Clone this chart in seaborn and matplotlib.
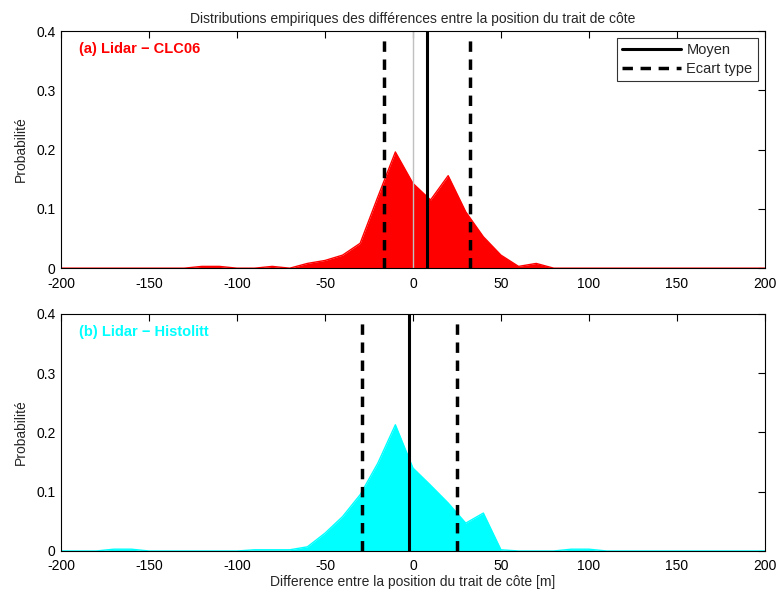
import numpy as np
import pandas as pd
import matplotlib
matplotlib.use("Agg")
import matplotlib.pyplot as plt
import seaborn as sns
from matplotlib.lines import Line2D

sns.set_style("white")
plt.rcParams['font.family'] = ['Liberation Sans', 'DejaVu Sans']

# Data (bin centers every 10 m)
x_bins = list(range(-200, 201, 10))

prob_clc06 = [0, 0, 0, 0, 0, 0, 0, 0, 0.003, 0.003,   # -200..-110
              0, 0, 0.003, 0, 0.008, 0.013, 0.022, 0.042, 0.12, 0.196,  # -100..-10
              0.143,  # 0
              0.115, 0.156, 0.095, 0.053, 0.022, 0.003, 0.008, 0, 0, 0,  # 10..100
              0, 0, 0, 0, 0, 0, 0, 0, 0, 0]  # 110..200

prob_histolitt = [0, 0, 0, 0.003, 0.003, 0, 0, 0, 0, 0,   # -200..-110
                  0, 0.002, 0.002, 0.002, 0.007, 0.03, 0.058, 0.095, 0.148, 0.213,  # -100..-10
                  0.14,  # 0
                  0.111, 0.081, 0.047, 0.064, 0.002, 0, 0, 0, 0.003, 0.003,  # 10..100
                  0, 0, 0, 0, 0, 0, 0, 0, 0, 0]

mean_vals = [8.0, -2.1]
std_low = [-16.3, -28.8]
std_high = [32.4, 25.2]
panel_labels = ["(a) Lidar \u2212 CLC06", "(b) Lidar \u2212 Histolitt"]
colors = ["#ff0000", "#00ffff"]
x_ticks = [-200, -150, -100, -50, 0, 50, 100, 150, 200]
y_ticks = [0, 0.1, 0.2, 0.3, 0.4]
y_tick_labels = ["0", "0.1", "0.2", "0.3", "0.4"]

fig = plt.figure(figsize=(7.78, 5.92), dpi=100)
ax1 = fig.add_axes([0.0784, 0.547, 0.9048, 0.4006])
ax2 = fig.add_axes([0.0784, 0.0693, 0.9048, 0.4003])

series = [prob_clc06, prob_histolitt]
for i, ax in enumerate([ax1, ax2]):
    df = pd.DataFrame({"x": x_bins, "p": series[i]})
    ax.fill_between(df["x"], 0, df["p"], color=colors[i], linewidth=0)
    sns.lineplot(data=df, x="x", y="p", ax=ax, color=colors[i], linewidth=1)
    if i == 0:
        ax.axvline(0, color="#c0c0c0", linewidth=1)
    ax.axvline(mean_vals[i], color="black", linewidth=2.2)
    ax.plot([std_low[i], std_low[i]], [0, 0.385], color="black", linewidth=2.5,
            linestyle=(0, (3, 2.2)))
    ax.plot([std_high[i], std_high[i]], [0, 0.385], color="black", linewidth=2.5,
            linestyle=(0, (3, 2.2)))
    ax.set_xlim(-200, 200)
    ax.set_ylim(0, 0.4)
    ax.set_xticks(x_ticks)
    ax.set_xticklabels([str(t) for t in x_ticks])
    ax.set_yticks(y_ticks)
    ax.set_yticklabels(y_tick_labels)
    ax.tick_params(direction="in", length=5, width=0.8, top=True, right=True,
                   labelsize=10, colors="black")
    ax.tick_params(axis="x", pad=6)
    ax.tick_params(axis="y", pad=4)
    for s in ax.spines.values():
        s.set_color("black")
        s.set_linewidth(0.8)
    ax.set_ylabel("Probabilité", fontsize=10, labelpad=6)
    ax.set_xlabel("")
    ax.text(-190, 0.37, panel_labels[i], color=colors[i], fontsize=10.5,
            fontweight="bold", va="center", ha="left")

ax1.set_title("Distributions empiriques des différences entre la position du trait de côte",
              fontsize=10, pad=6)
ax2.set_xlabel("Difference entre la position du trait de côte [m]", fontsize=10, labelpad=1)

handles = [Line2D([], [], color="black", linewidth=2.2),
           Line2D([], [], color="black", linewidth=2.5, linestyle=(0, (3, 2.2)))]
leg = ax1.legend(handles, ["Moyen", "Ecart type"], loc="upper right", fontsize=10.5,
                 frameon=True, fancybox=False, edgecolor="black", handlelength=4.0,
                 borderaxespad=0.5, borderpad=0.35, labelspacing=0.3, handletextpad=0.4)
leg.get_frame().set_linewidth(0.8)

fig.savefig("out.png", dpi=100)
